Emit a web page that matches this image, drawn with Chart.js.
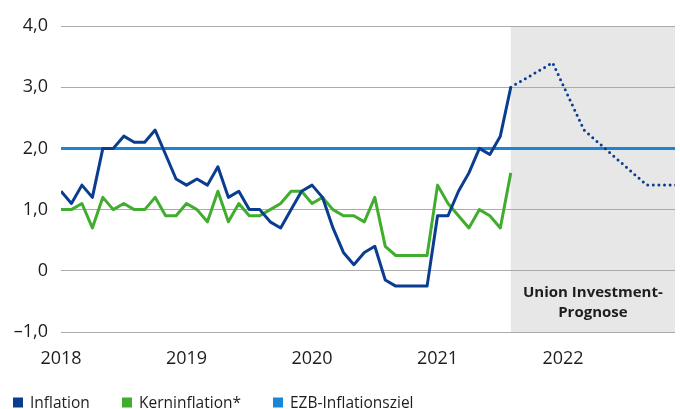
<!DOCTYPE html>
<html><head><meta charset="utf-8">
<script src="https://cdn.jsdelivr.net/npm/chart.js@4/dist/chart.umd.min.js"></script>
<style>html,body{margin:0;padding:0;background:#fff;}#wrap{width:680px;height:409px;position:relative;}</style>
</head><body><div id="wrap"><canvas id="c" width="680" height="409"></canvas></div>
<script>
// ---- data ----
const startMonth = '2018-01';
const inflation = [
  1.3, 1.1, 1.4, 1.2, 2.0, 2.0, 2.2, 2.1, 2.1, 2.3, 1.9, 1.5,
  1.4, 1.5, 1.4, 1.7, 1.2, 1.3, 1.0, 1.0, 0.8, 0.7, 1.0, 1.3,
  1.4, 1.2, 0.7, 0.3, 0.1, 0.3, 0.4, -0.15, -0.25, -0.25, -0.25, -0.25,
  0.9, 0.9, 1.3, 1.6, 2.0, 1.9, 2.2, 3.0
];
const coreInflation = [
  1.0, 1.0, 1.1, 0.7, 1.2, 1.0, 1.1, 1.0, 1.0, 1.2, 0.9, 0.9,
  1.1, 1.0, 0.8, 1.3, 0.8, 1.1, 0.9, 0.9, 1.0, 1.1, 1.3, 1.3,
  1.1, 1.2, 1.0, 0.9, 0.9, 0.8, 1.2, 0.4, 0.25, 0.25, 0.25, 0.25,
  1.4, 1.1, 0.9, 0.7, 1.0, 0.9, 0.7, 1.6
];
const forecastMonths = ['2021-08', '2021-12', '2022-03', '2022-09', '2022-12'];
const forecastValues = [3.0, 3.4, 2.3, 1.4, 1.4];
const ecbTarget = 2.0;
const yearLabels = ['2018', '2019', '2020', '2021', '2022'];
const yTicks = [-1, 0, 1, 2, 3, 4];
const yTickLabels = ['\u20131,0', '0', '1,0', '2,0', '3,0', '4,0'];
const legendLabels = ['Inflation', 'Kerninflation*', 'EZB-Inflationsziel'];
const forecastLabel = ['Union Investment-', 'Prognose'];
const axisEnd = '2022-12';

// ---- helpers ----
function monthIndex(s) {
  const [y, m] = s.split('-').map(Number);
  const [y0, m0] = startMonth.split('-').map(Number);
  return (y - y0) * 12 + (m - m0);
}
const DARK = '#0a3d8f', GREEN = '#41ad2f', LIGHT = '#1c86d6';
const FONT = "'Open Sans', 'Noto Sans', sans-serif";
const TXT = '#1d1d1b';

const inflPts = inflation.map((v, i) => ({x: i, y: v}));
const corePts = coreInflation.map((v, i) => ({x: i, y: v}));
const fcPts = forecastMonths.map((m, i) => ({x: monthIndex(m), y: forecastValues[i]}));
const targetPts = [{x: 0, y: ecbTarget}, {x: monthIndex(axisEnd), y: ecbTarget}];
const forecastStart = monthIndex(forecastMonths[0]);

const decor = {
  id: 'decor',
  beforeDraw(chart) {
    const {ctx, chartArea: a, scales: {x}} = chart;
    const x0 = x.getPixelForValue(forecastStart);
    ctx.save();
    ctx.fillStyle = '#e7e7e7';
    ctx.fillRect(x0, a.top, a.right - x0, a.bottom - a.top);
    ctx.restore();
  },
  afterDraw(chart) {
    const {ctx, chartArea: a, scales: {x}} = chart;
    const x0 = x.getPixelForValue(forecastStart);
    const cx = (x0 + a.right) / 2;
    ctx.save();
    ctx.fillStyle = TXT;
    ctx.font = "bold 15px " + FONT;
    ctx.textAlign = 'center';
    ctx.textBaseline = 'middle';
    ctx.fillText(forecastLabel[0], cx, 293);
    ctx.fillText(forecastLabel[1], cx, 313);
    // legend
    const colors = [DARK, GREEN, LIGHT];
    const boxX = [13, 122, 273];
    ctx.font = "15.5px " + FONT;
    ctx.textAlign = 'left';
    ctx.textBaseline = 'alphabetic';
    legendLabels.forEach((t, i) => {
      ctx.fillStyle = colors[i];
      ctx.fillRect(boxX[i], 397.5, 10, 10);
      ctx.fillStyle = TXT;
      ctx.fillText(t, boxX[i] + 17, 407.5);
    });
    ctx.restore();
  }
};

new Chart(document.getElementById('c'), {
  type: 'line',
  data: {
    datasets: [
      {label: legendLabels[2], data: targetPts, borderColor: LIGHT, borderWidth: 3, pointRadius: 0, order: 3},
      {label: legendLabels[1], data: corePts, borderColor: GREEN, borderWidth: 3, pointRadius: 0, order: 2},
      {label: legendLabels[0], data: inflPts, borderColor: DARK, borderWidth: 3, pointRadius: 0, order: 1},
      {label: 'Prognose', data: fcPts, borderColor: DARK, borderWidth: 3, pointRadius: 0,
       borderDash: [0, 5.6], borderCapStyle: 'round', order: 0}
    ]
  },
  options: {
    responsive: false,
    devicePixelRatio: 1,
    animation: false,
    layout: {padding: {left: 0, right: 5, top: 26, bottom: 32}},
    plugins: {legend: {display: false}, tooltip: {enabled: false}},
    elements: {line: {tension: 0, borderJoinStyle: 'round'}},
    scales: {
      x: {
        type: 'linear', min: 0, max: 58.7,
        grid: {display: false, drawTicks: false},
        border: {display: false},
        afterBuildTicks(s) { s.ticks = yearLabels.map((l, i) => ({value: i * 12})); },
        afterFit(s) { s.height = 45; },
        ticks: {
          autoSkip: false, maxRotation: 0, padding: 16, color: TXT,
          font: {family: FONT, size: 18},
          callback: (v) => yearLabels[Math.round(v / 12)]
        }
      },
      y: {
        min: -1, max: 4,
        afterBuildTicks(s) { s.ticks = yTicks.map(v => ({value: v})); },
        afterFit(s) { s.width = 61; },
        grid: {color: '#ababab', lineWidth: 1, drawTicks: false},
        border: {display: false},
        ticks: {
          padding: 13, color: TXT, font: {family: FONT, size: 18},
          callback: (v) => yTickLabels[yTicks.indexOf(v)]
        }
      }
    }
  },
  plugins: [decor]
});
</script></body></html>
